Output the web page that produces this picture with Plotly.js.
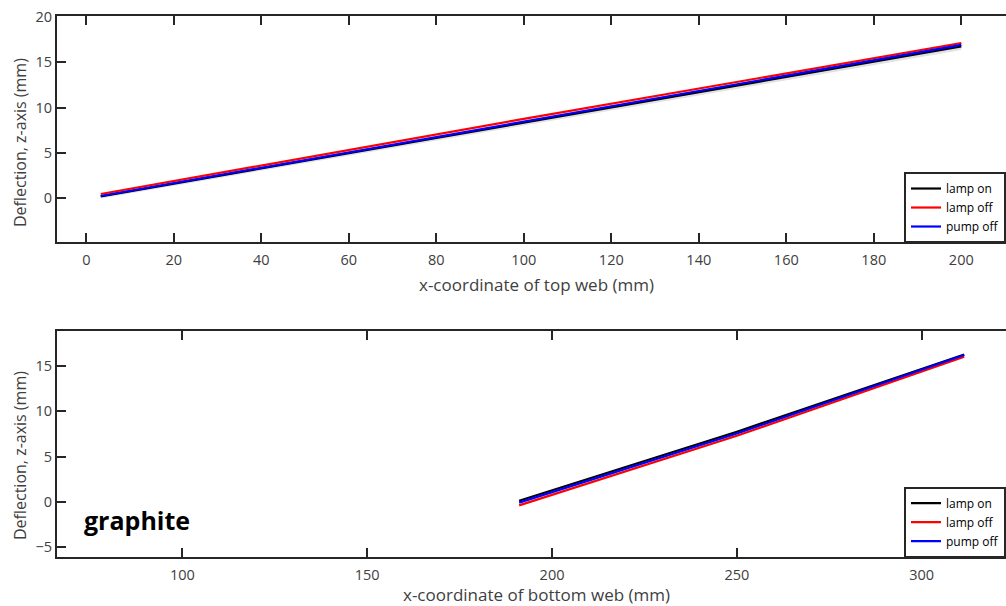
<!DOCTYPE html>
<html>
<head>
<meta charset="utf-8">
<script src="https://cdn.plot.ly/plotly-3.0.1.min.js"></script>
<style>
html, body { margin: 0; padding: 0; overflow: hidden; background: #fff; width: 1006px; height: 606px; }
#chart { width: 1100px; height: 606px; }
</style>
</head>
<body>
<div id="chart"></div>
<script>
// ---- data ----
const topX = [3.3, 100, 200];
const topLampOn = [0.2, 8.35, 16.75];
const topLampOff = [0.47, 8.75, 17.12];
const topPumpOff = [0.25, 8.47, 16.92];
const topShadow = [0.15, 8.2, 16.5];

const botX = [191.1, 250, 311.5];
const botLampOn = [0.1, 7.75, 16.3];
const botLampOff = [-0.4, 7.3, 16.05];
const botPumpOff = [-0.1, 7.55, 16.25];

const seriesNames = ['lamp on', 'lamp off', 'pump off'];
const seriesColors = ['#000000', '#ff0000', '#0000ff'];

const topTitleX = 'x-coordinate of top web (mm)';
const botTitleX = 'x-coordinate of bottom web (mm)';
const titleY = 'Deflection, z-axis (mm)';
const noteText = 'graphite';

// ---- traces ----
const FONT = 'Open Sans, sans-serif';
const TXT = '#404040';
const traces = [];
traces.push({x: topX, y: topShadow, mode: 'lines', xaxis: 'x', yaxis: 'y',
  line: {color: '#e2e2e2', width: 3}, showlegend: false, hoverinfo: 'skip'});
[topLampOn, topLampOff, topPumpOff].forEach((ys, i) => {
  traces.push({x: topX, y: ys, mode: 'lines', name: seriesNames[i], xaxis: 'x', yaxis: 'y',
    line: {color: seriesColors[i], width: 2.2}, legend: 'legend'});
});
[botLampOn, botLampOff, botPumpOff].forEach((ys, i) => {
  traces.push({x: botX, y: ys, mode: 'lines', name: seriesNames[i], xaxis: 'x2', yaxis: 'y2',
    line: {color: seriesColors[i], width: 2.2}, legend: 'legend2'});
});

const axisCommon = {
  showline: true, linecolor: '#262626', linewidth: 2, mirror: 'ticks',
  ticks: 'inside', ticklen: 9, tickwidth: 2, tickcolor: '#262626',
  showgrid: false, zeroline: false,
  tickfont: {family: FONT, size: 14.5, color: TXT},
  automargin: false
};
const xTitleFont = {family: FONT, size: 17, color: TXT};

const legendCommon = {
  bgcolor: '#ffffff', bordercolor: '#262626', borderwidth: 2,
  font: {family: FONT, size: 12, color: '#000000'},
  xanchor: 'left', yanchor: 'top', tracegroupgap: 0, itemwidth: 30
};

const layout = {
  width: 1100, height: 606,
  margin: {l: 57, r: 84, t: 16, b: 49},
  paper_bgcolor: '#ffffff', plot_bgcolor: '#ffffff',
  showlegend: true,
  xaxis: Object.assign({}, axisCommon, {domain: [0, 1], anchor: 'y', range: [-6.7, 212.5], dtick: 20, tick0: 0,
    ticklabelstandoff: 4, title: {text: topTitleX, font: xTitleFont, standoff: 11}}),
  yaxis: Object.assign({}, axisCommon, {domain: [0.5823, 1], anchor: 'x', range: [-4.82, 20.1], dtick: 5, tick0: 0}),
  xaxis2: Object.assign({}, axisCommon, {domain: [0, 1], anchor: 'y2', range: [66.1, 325.5], dtick: 50, tick0: 0,
    ticklabelstandoff: 4, title: {text: botTitleX, font: xTitleFont, standoff: 11}}),
  yaxis2: Object.assign({}, axisCommon, {domain: [0, 0.4177], anchor: 'x2', range: [-6.12, 18.9], dtick: 5, tick0: 0}),
  legend: Object.assign({}, legendCommon, {x: 0.8832, y: 0.7116}),
  legend2: Object.assign({}, legendCommon, {x: 0.8832, y: 0.130}),
  annotations: [
    {text: titleY, xref: 'paper', yref: 'paper', x: -0.0386, y: 0.767, textangle: -90,
     showarrow: false, xanchor: 'center', yanchor: 'middle', font: {family: FONT, size: 16, color: TXT}},
    {text: titleY, xref: 'paper', yref: 'paper', x: -0.0386, y: 0.1885, textangle: -90,
     showarrow: false, xanchor: 'center', yanchor: 'middle', font: {family: FONT, size: 16, color: TXT}},
    {text: noteText, xref: 'x2', yref: 'y2', x: 87.7, y: -2.0, showarrow: false,
     font: {family: FONT, size: 25, color: '#000000', weight: 'bold'}}
  ]
};

Plotly.newPlot('chart', traces, layout, {displayModeBar: false, staticPlot: true});
</script>
</body>
</html>
